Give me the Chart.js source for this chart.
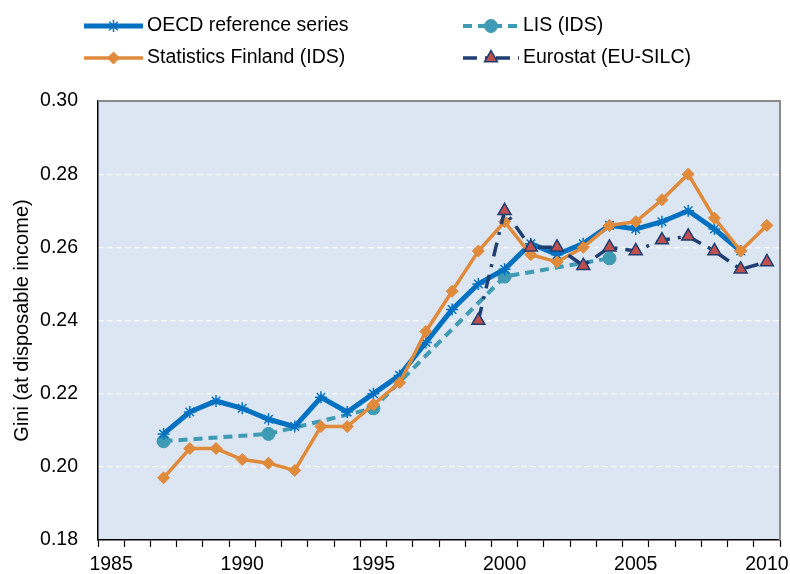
<!DOCTYPE html>
<html lang="en">
<head>
    <meta charset="UTF-8">
    <title>Gini (at disposable income) - Finland</title>
    <script src="https://cdn.jsdelivr.net/npm/chart.js"></script>
    <style>
        html, body { margin: 0; padding: 0; background: #ffffff; }
        #wrap { width: 790px; height: 574px; }
    </style>
</head>
<body>
    <div id="wrap">
        <canvas id="giniChart" width="790" height="574"></canvas>
    </div>
    <script>
        // Years on the category axis
        const years = [1985, 1986, 1987, 1988, 1989, 1990, 1991, 1992, 1993, 1994, 1995, 1996, 1997,
                       1998, 1999, 2000, 2001, 2002, 2003, 2004, 2005, 2006, 2007, 2008, 2009, 2010];

        // Series values (null = no observation)
        const oecdRef = [null, null, 0.209, 0.215, 0.218, 0.216, 0.213, 0.211, 0.219, 0.215, 0.220, 0.225, 0.234,
                         0.243, 0.250, 0.254, 0.261, 0.258, 0.261, 0.266, 0.265, 0.267, 0.270, 0.265, 0.259, null];
        const lisIds = [null, null, 0.207, null, null, null, 0.209, null, null, null, 0.216, null, null,
                        null, null, 0.252, null, null, null, 0.257, null, null, null, null, null, null];
        const statFin = [null, null, 0.197, 0.205, 0.205, 0.202, 0.201, 0.199, 0.211, 0.211, 0.217, 0.223, 0.237,
                         0.248, 0.259, 0.267, 0.258, 0.256, 0.260, 0.266, 0.267, 0.273, 0.280, 0.268, 0.259, 0.266];
        const eurostat = [null, null, null, null, null, null, null, null, null, null, null, null, null,
                          null, 0.240, 0.270, 0.260, 0.260, 0.255, 0.260, 0.259, 0.262, 0.263, 0.259, 0.254, 0.256];

        // Tick labels
        const yTicks = [0.18, 0.20, 0.22, 0.24, 0.26, 0.28, 0.30];
        const xLabelYears = [1985, 1990, 1995, 2000, 2005, 2010];

        const FONT = '"Liberation Sans", Arial, sans-serif';

        // plot background + grey top/right frame
        const plotFrame = {
            id: 'plotFrame',
            beforeDraw(chart) {
                const { ctx, chartArea: a } = chart;
                ctx.save();
                ctx.fillStyle = '#DCE6F2';
                ctx.fillRect(a.left, a.top, a.right - a.left, a.bottom - a.top);
                ctx.restore();
            },
            afterDatasetsDraw(chart) {
                const { ctx, chartArea: a } = chart;
                ctx.save();
                ctx.strokeStyle = '#8A8A8A';
                ctx.lineWidth = 2;
                ctx.beginPath();
                ctx.moveTo(a.left, a.top);
                ctx.lineTo(a.right, a.top);
                ctx.lineTo(a.right, a.bottom);
                ctx.stroke();
                ctx.restore();
            }
        };

        // two-column legend on top, with line + marker samples
        const topLegend = {
            id: 'topLegend',
            afterDraw(chart) {
                const ctx = chart.ctx;
                const spots = [
                    { ds: 0, x0: 84, x1: 143, y: 26 },
                    { ds: 1, x0: 463, x1: 519, y: 26 },
                    { ds: 2, x0: 84, x1: 143, y: 58 },
                    { ds: 3, x0: 463, x1: 519, y: 58 }
                ];
                spots.forEach(s => {
                    const d = chart.data.datasets[s.ds];
                    ctx.save();
                    ctx.strokeStyle = d.borderColor;
                    ctx.lineWidth = d.borderWidth;
                    ctx.setLineDash(d.borderDash || []);
                    ctx.beginPath();
                    ctx.moveTo(s.x0, s.y);
                    ctx.lineTo(s.x1, s.y);
                    ctx.stroke();
                    ctx.setLineDash([]);
                    const mx = (s.x0 + s.x1) / 2;
                    ctx.fillStyle = d.pointBackgroundColor;
                    ctx.strokeStyle = d.pointBorderColor;
                    ctx.lineWidth = d.pointBorderWidth;
                    Chart.helpers.drawPoint(ctx, {
                        pointStyle: d.pointStyle, radius: d.pointRadius,
                        borderWidth: d.pointBorderWidth, rotation: 0
                    }, mx, s.y);
                    ctx.fillStyle = '#000000';
                    ctx.font = '19.5px ' + FONT;
                    ctx.textBaseline = 'middle';
                    ctx.textAlign = 'left';
                    ctx.fillText(d.label, s.x1 + 4, s.y);
                    ctx.restore();
                });
            }
        };

        const ctx = document.getElementById('giniChart').getContext('2d');
        new Chart(ctx, {
            type: 'line',
            data: {
                labels: years,
                datasets: [{
                    label: 'OECD reference series',
                    data: oecdRef,
                    borderColor: '#0070C0',
                    borderWidth: 5,
                    pointStyle: 'star',
                    pointRadius: 6,
                    pointBorderWidth: 1.5,
                    pointBackgroundColor: '#0070C0',
                    pointBorderColor: '#0070C0',
                    spanGaps: true,
                    order: 2
                },
                {
                    label: 'LIS (IDS)',
                    data: lisIds,
                    borderColor: '#3F9BB3',
                    borderWidth: 4,
                    borderDash: [9, 6],
                    pointStyle: 'circle',
                    pointRadius: 6.5,
                    pointBorderWidth: 1,
                    pointBackgroundColor: '#3F9BB3',
                    pointBorderColor: '#3F9BB3',
                    spanGaps: true,
                    order: 3
                },
                {
                    label: 'Statistics Finland (IDS)',
                    data: statFin,
                    borderColor: '#E08A3C',
                    borderWidth: 3.5,
                    pointStyle: 'rectRot',
                    pointRadius: 6,
                    pointBorderWidth: 1,
                    pointBackgroundColor: '#E08A3C',
                    pointBorderColor: '#E08A3C',
                    spanGaps: true,
                    order: 1
                },
                {
                    label: 'Eurostat (EU-SILC)',
                    data: eurostat,
                    borderColor: '#1F3F73',
                    borderWidth: 3.5,
                    borderDash: [14, 8, 3, 8],
                    pointStyle: 'triangle',
                    pointRadius: 7.5,
                    pointBorderWidth: 1.5,
                    pointBackgroundColor: '#C0504D',
                    pointBorderColor: '#1F3F73',
                    spanGaps: true,
                    order: 0
                }]
            },
            options: {
                responsive: false,
                animation: false,
                layout: { padding: { top: 101, right: 10, left: 0, bottom: 0 } },
                plugins: {
                    legend: { display: false },
                    tooltip: { enabled: false }
                },
                elements: { line: { tension: 0 } },
                scales: {
                    x: {
                        type: 'category',
                        offset: true,
                        afterFit(scale) {
                            scale.height = 34;
                            scale.paddingLeft = 0;
                            scale.paddingRight = 0;
                        },
                        grid: {
                            offset: true,
                            drawOnChartArea: false,
                            drawTicks: true,
                            tickLength: 7,
                            tickColor: '#000000',
                            tickWidth: 1.2
                        },
                        border: { display: true, color: '#000000', width: 1.5 },
                        ticks: {
                            autoSkip: false,
                            maxRotation: 0,
                            padding: 6,
                            color: '#000000',
                            font: { family: FONT, size: 19.5 },
                            callback(value, index) {
                                const yr = years[index];
                                return xLabelYears.includes(yr) ? String(yr) : '';
                            }
                        }
                    },
                    y: {
                        min: yTicks[0],
                        max: yTicks[yTicks.length - 1],
                        afterFit(scale) { scale.width = 98; },
                        afterBuildTicks(scale) {
                            scale.ticks = yTicks.map(v => ({ value: v }));
                        },
                        grid: {
                            drawTicks: false,
                            lineWidth: 1.2,
                            color(c) {
                                const v = c.tick ? c.tick.value : null;
                                if (v === yTicks[0] || v === yTicks[yTicks.length - 1]) return 'rgba(0,0,0,0)';
                                return '#FFFFFF';
                            }
                        },
                        border: { display: true, color: '#000000', width: 1.5, dash: [5, 4] },
                        ticks: {
                            padding: 20,
                            color: '#000000',
                            font: { family: FONT, size: 19.5 },
                            callback(value) { return Number(value).toFixed(2); }
                        },
                        title: {
                            display: true,
                            text: 'Gini (at disposable income)',
                            color: '#000000',
                            font: { family: FONT, size: 20 },
                            padding: { top: 10, bottom: 0 }
                        }
                    }
                }
            },
            plugins: [plotFrame, topLegend]
        });
    </script>
</body>
</html>
